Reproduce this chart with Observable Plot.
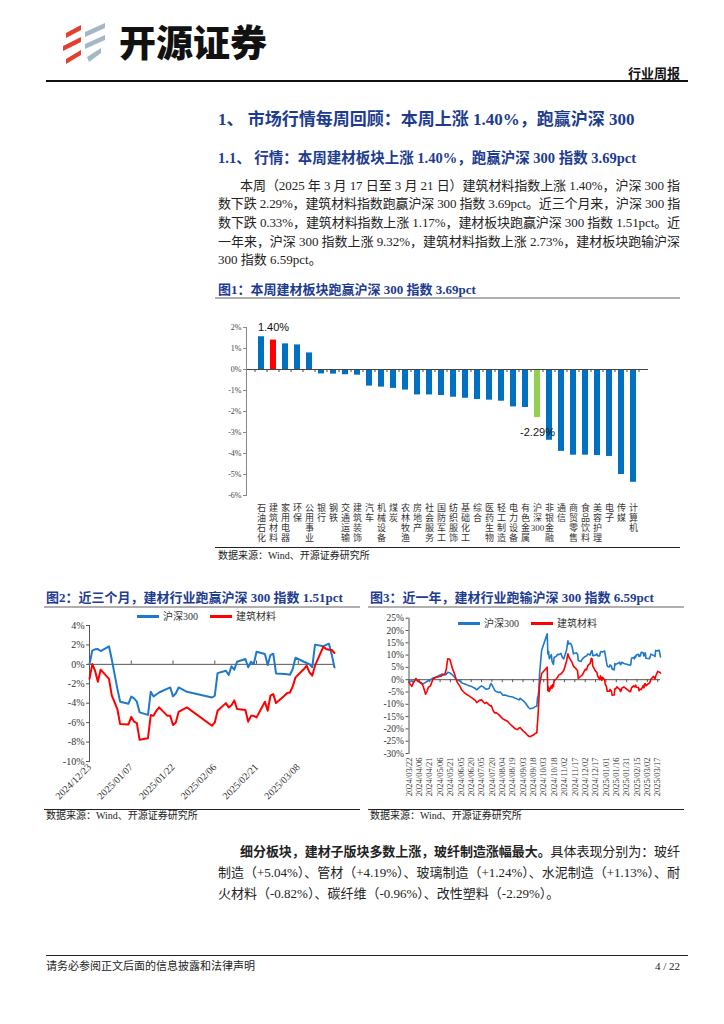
<!DOCTYPE html>
<html><head><meta charset="utf-8">
<script src="https://cdn.jsdelivr.net/npm/d3@7"></script>
<script src="https://cdn.jsdelivr.net/npm/@observablehq/plot@0.6"></script>
<style>
html,body{margin:0;padding:0;background:#fff;}
body{width:724px;height:1024px;position:relative;overflow:hidden;font-family:"Liberation Serif","Noto Sans CJK SC",serif;color:#222;}
.a{position:absolute;white-space:nowrap;}
.navy{color:#1d3c8f;font-weight:bold;}
.rule{position:absolute;}
.jl{position:absolute;white-space:nowrap;font-size:13px;line-height:19px;height:19px;}
.jl2{line-height:21px;height:21px;}
.src{font-size:10px;line-height:14px;}
.leg{position:absolute;font-size:10px;line-height:12px;white-space:nowrap;color:#333;}
.leg i{display:inline-block;width:22px;height:0;border-top:3px solid;vertical-align:middle;margin-right:4px;position:relative;top:-1px;}
.chart{position:absolute;}
</style></head><body>

<svg class="a" style="left:60px;top:21px" width="48" height="44" viewBox="0 0 48 44">
  <g fill="#e2412f">
    <polygon points="6,12 21,4 21,9 6,17"/>
    <polygon points="3,25 21,16 21,21 3,30"/>
    <polygon points="6,38 21,29 21,34 6,43"/>
  </g>
  <g fill="#a3b7c7">
    <polygon points="25,11 45,2 45,7 25,16"/>
    <polygon points="25,23 45,14 45,19 25,28"/>
    <polygon points="27,36 41,27 41,32 29,41"/>
  </g>
</svg>
<div class="a" style="left:119px;top:19px;font-family:'Noto Sans CJK SC';font-weight:900;font-size:37px;line-height:44px;color:#111;">开源证券</div>
<div class="a" style="right:44px;top:65px;font-family:'Noto Sans CJK SC';font-weight:bold;font-size:13px;line-height:16px;color:#111;">行业周报</div>
<div class="rule" style="left:46px;top:80px;width:642px;height:1.5px;background:#111;"></div>

<div class="a navy" style="left:218px;top:109px;font-size:17px;line-height:22px;">1、 市场行情每周回顾：本周上涨 1.40%，跑赢沪深 300</div>
<div class="a navy" style="left:218px;top:148px;font-size:14.5px;line-height:20px;">1.1、 行情：本周建材板块上涨 1.40%，跑赢沪深 300 指数 3.69pct</div>

<div class="jl" data-w="440" style="left:240px;top:175.5px;">本周（2025 年 3 月 17 日至 3 月 21 日）建筑材料指数上涨 1.40%，沪深 300 指</div>
<div class="jl" data-w="462" style="left:218px;top:194.2px;">数下跌 2.29%，建筑材料指数跑赢沪深 300 指数 3.69pct。近三个月来，沪深 300 指</div>
<div class="jl" data-w="462" style="left:218px;top:213px;">数下跌 0.33%，建筑材料指数上涨 1.17%，建材板块跑赢沪深 300 指数 1.51pct。近</div>
<div class="jl" data-w="462" style="left:218px;top:231.7px;">一年来，沪深 300 指数上涨 9.32%，建筑材料指数上涨 2.73%，建材板块跑输沪深</div>
<div class="jl" style="left:218px;top:250.4px;">300 指数 6.59pct。</div>

<div class="a navy" style="left:218px;top:282px;font-size:13px;line-height:16px;">图1：本周建材板块跑赢沪深 300 指数 3.69pct</div>
<div class="rule" style="left:215px;top:297px;width:465px;height:2px;background:#b0b0b0;"></div>
<div class="chart" id="c1" style="left:215px;top:305px;"></div>
<div class="rule" style="left:215px;top:547px;width:465px;height:1px;background:#222;"></div>
<div class="a src" style="left:218px;top:549px;">数据来源：Wind、开源证券研究所</div>

<div class="a navy" style="left:46px;top:590px;font-size:13px;line-height:16px;">图2：近三个月，建材行业跑赢沪深 300 指数 1.51pct</div>
<div class="a navy" style="left:370px;top:590px;font-size:13px;line-height:16px;">图3：近一年，建材行业跑输沪深 300 指数 6.59pct</div>
<div class="rule" style="left:44px;top:606px;width:316px;height:2px;background:#b0b0b0;"></div>
<div class="rule" style="left:368px;top:606px;width:316px;height:2px;background:#b0b0b0;"></div>
<div class="chart" id="c2" style="left:44px;top:610px;"></div>
<div class="chart" id="c3" style="left:368px;top:610px;"></div>
<div class="leg" style="left:137px;top:611px;"><i style="border-color:#1f78c8"></i>沪深300</div>
<div class="leg" style="left:210px;top:611px;"><i style="border-color:#ff0000"></i>建筑材料</div>
<div class="leg" style="left:458px;top:618px;"><i style="border-color:#1f78c8"></i>沪深300</div>
<div class="leg" style="left:531px;top:618px;"><i style="border-color:#ff0000"></i>建筑材料</div>
<div class="rule" style="left:44px;top:809px;width:316px;height:1px;background:#222;"></div>
<div class="rule" style="left:368px;top:809px;width:316px;height:1px;background:#222;"></div>
<div class="a src" style="left:46px;top:809px;">数据来源：Wind、开源证券研究所</div>
<div class="a src" style="left:370px;top:809px;">数据来源：Wind、开源证券研究所</div>

<div class="jl jl2" data-w="440" style="left:240px;top:840.5px;"><b>细分板块，建材子版块多数上涨，玻纤制造涨幅最大。</b>具体表现分别为：玻纤</div>
<div class="jl jl2" data-w="462" style="left:218px;top:861.5px;">制造（+5.04%）、管材（+4.19%）、玻璃制造（+1.24%）、水泥制造（+1.13%）、耐</div>
<div class="jl jl2" style="left:218px;top:882.5px;">火材料（-0.82%）、碳纤维（-0.96%）、改性塑料（-2.29%）。</div>

<div class="rule" style="left:46px;top:955px;width:642px;height:1px;background:#222;"></div>
<div class="a" style="left:46px;top:959px;font-size:11px;line-height:14px;">请务必参阅正文后面的信息披露和法律声明</div>
<div class="a" style="right:44px;top:959px;font-size:11px;line-height:14px;">4 / 22</div>

<script>
// ---------- Figure 1: weekly change by sector ----------
const sectors = ["石油石化","建筑材料","家用电器","环保","公用事业","银行","钢铁","交通运输","建筑装饰","汽车","机械设备","煤炭","农林牧渔","房地产","社会服务","国防军工","纺织服饰","基础化工","综合","医药生物","轻工制造","电力设备","有色金属","沪深300","非银金融","通信","商贸零售","食品饮料","美容护理","电子","传媒","计算机"];
const weekChange = [1.56,1.40,1.22,1.17,0.79,-0.21,-0.22,-0.25,-0.27,-0.79,-0.84,-0.90,-0.98,-1.21,-1.21,-1.24,-1.32,-1.37,-1.43,-1.46,-1.51,-1.78,-1.81,-2.29,-3.37,-3.90,-4.08,-4.08,-4.10,-4.14,-5.00,-5.37];
const barColors = {"建筑材料":"#FF0000","沪深300":"#92D050"};
const barDefault = "#0070C0";
const yTicks1 = [2,1,0,-1,-2,-3,-4,-5,-6];

// ---------- Figure 2: last three months ----------
const d2Dates = ["2024-12-23","2024-12-24","2024-12-25","2024-12-26","2024-12-27","2024-12-30","2024-12-31","2025-01-02","2025-01-03","2025-01-06","2025-01-07","2025-01-08","2025-01-09","2025-01-10","2025-01-13","2025-01-14","2025-01-15","2025-01-16","2025-01-17","2025-01-20","2025-01-21","2025-01-22","2025-01-23","2025-01-24","2025-01-27","2025-02-05","2025-02-06","2025-02-07","2025-02-10","2025-02-11","2025-02-12","2025-02-13","2025-02-14","2025-02-17","2025-02-18","2025-02-19","2025-02-20","2025-02-21","2025-02-24","2025-02-25","2025-02-26","2025-02-27","2025-02-28","2025-03-03","2025-03-04","2025-03-05","2025-03-06","2025-03-07","2025-03-10","2025-03-11","2025-03-12","2025-03-13","2025-03-14","2025-03-17","2025-03-18","2025-03-19","2025-03-20","2025-03-21"];
const d2HS300 = [0,1.41,1.55,1.58,1.37,1.86,0.5,-2.5,-3.84,-4.05,-3.32,-3.5,-3.84,-4.94,-5.2,-2.83,-3.3,-3.1,-2.9,-2.5,-2.38,-3.3,-3.0,-2.38,-2.83,-3.41,-3.23,-0.9,-0.65,-1.1,-0.2,-0.55,0.27,0.55,-0.3,0.27,0.03,1.3,1.07,-0.07,0.96,1.1,-0.93,-1.0,-1.03,-1.07,-0.48,0.69,0.27,0.14,0.03,-0.3,2.03,1.86,2.0,2.13,1.0,-0.33];
const d2JC = [-1.5,0.03,-0.65,-1.79,-0.55,-1.5,-3.2,-4.6,-6.15,-6.18,-5.4,-5.9,-6.05,-7.77,-7.6,-5.22,-5.3,-4.78,-4.43,-5.3,-5.3,-6.25,-5.98,-4.9,-4.43,-6.32,-5.98,-4.78,-3.99,-4.43,-4.2,-3.71,-4.6,-4.7,-5.9,-5.3,-5.3,-5.46,-3.85,-4.78,-3.23,-3.06,-3.99,-3.23,-2.95,-2.9,-2.27,-1.34,-0.48,-0.14,-0.82,-1.17,-0.14,1.82,1.58,1.51,1.48,1.17];
const d2Ticks = ["2024-12-23","2025-01-07","2025-01-22","2025-02-06","2025-02-21","2025-03-08"];
const yTicks2 = [4,2,0,-2,-4,-6,-8,-10];

// ---------- Figure 3: last year ----------
const d3DatesEarly = ["2024-03-22","2024-03-26","2024-03-28","2024-04-01","2024-04-03","2024-04-08","2024-04-10","2024-04-12","2024-04-15","2024-04-17","2024-04-19","2024-04-22","2024-04-24","2024-04-26","2024-04-30","2024-05-07","2024-05-09","2024-05-13","2024-05-15","2024-05-17","2024-05-20","2024-05-22","2024-05-24","2024-05-27","2024-05-29","2024-05-31","2024-06-04","2024-06-06","2024-06-11","2024-06-13","2024-06-17","2024-06-20","2024-06-24","2024-06-26","2024-06-28","2024-07-02","2024-07-05","2024-07-08","2024-07-10","2024-07-12","2024-07-16","2024-07-18","2024-07-19","2024-07-22","2024-07-24","2024-07-26","2024-07-30","2024-08-01","2024-08-05","2024-08-08","2024-08-12","2024-08-15","2024-08-19","2024-08-22","2024-08-26","2024-08-28","2024-08-30","2024-09-03","2024-09-05","2024-09-09","2024-09-11","2024-09-13","2024-09-18","2024-09-20","2024-09-23","2024-09-24","2024-09-25","2024-09-26","2024-09-27","2024-09-30","2024-10-08","2024-10-09","2024-10-10","2024-10-11","2024-10-14","2024-10-15","2024-10-16","2024-10-17","2024-10-18","2024-10-21","2024-10-23","2024-10-25","2024-10-28","2024-10-30","2024-11-01","2024-11-05","2024-11-07","2024-11-08","2024-11-11","2024-11-13","2024-11-15","2024-11-19","2024-11-21","2024-11-22","2024-11-26","2024-11-28","2024-12-02","2024-12-04","2024-12-06","2024-12-09","2024-12-11","2024-12-12","2024-12-13","2024-12-17","2024-12-19","2024-12-20"];
const d3Dates = d3DatesEarly.concat(d2Dates);
const d3HS300 = [-1.0,-0.4,-1.0,0.3,0.0,-1.5,-1.8,-1.6,-1.1,-0.7,
  -0.4,0.0,0.3,0.8,1.0,2.0,2.3,1.9,2.2,3.0,
  2.8,2.4,1.9,1.0,0.3,0.0,-0.6,-1.2,-1.8,-2.0,
  -2.5,-2.7,-3.3,-3.6,-4.1,-3.1,-2.5,-3.0,-3.6,-3.9,
  -3.6,-1.8,-1.6,-3.1,-4.3,-4.8,-5.2,-5.0,-6.3,-6.2,
  -6.6,-6.8,-7.0,-7.4,-7.9,-8.2,-7.6,-8.5,-9.0,-10.5,
  -11.3,-11.8,-11.5,-11.0,-10.8,-7.2,-6.6,-3.8,2.5,12.0,
  18.7,10.5,11.5,8.5,10.2,7.5,6.8,6.2,9.0,9.5,
  10.3,10.2,10.7,9.0,8.5,12.0,15.8,14.5,14.8,13.5,
  10.5,11.0,10.3,7.8,7.4,8.5,9.5,9.6,10.5,10.0,
  11.6,11.8,9.8,10.0,10.5,9.7,
  9.7,11.2,11.4,11.4,11.2,11.7,10.2,6.9,5.5,5.2,
  6.0,5.8,5.5,4.3,4.0,6.6,6.1,6.3,6.5,6.9,
  7.1,6.1,6.4,7.1,6.6,5.9,6.1,8.7,9.0,8.5,
  9.5,9.1,10.0,10.3,9.4,10.0,9.7,11.1,10.9,9.6,
  10.7,10.9,8.7,8.6,8.6,8.5,9.2,10.4,10.0,9.8,
  9.7,9.4,11.9,11.7,11.9,12.0,10.8,9.3];
const d3JC = [-1.1,-2.7,-1.5,0.5,-0.5,-1.1,-1.6,-3.1,-5.9,-4.8,
  -3.1,-2.5,-1.0,0.3,1.0,1.4,1.8,2.3,4.4,8.5,
  8.3,6.4,4.4,2.3,0.3,-1.1,-2.8,-4.1,-5.5,-5.9,
  -6.6,-7.2,-8.0,-8.4,-9.3,-8.4,-8.2,-9.2,-9.6,-9.2,
  -10.2,-10.7,-10.5,-12.7,-13.5,-13.4,-14.2,-14.8,-16.0,-16.4,
  -17.0,-18.0,-19.0,-19.8,-20.3,-19.6,-19.5,-20.8,-21.2,-22.4,
  -22.9,-23.2,-22.5,-22.0,-21.6,-17.5,-13.4,-8.0,-2.0,2.5,
  5.1,-4.5,-3.0,-4.8,-2.5,-3.5,-2.0,-2.8,-0.5,0.3,
  1.0,2.0,2.3,3.0,3.7,7.5,10.5,9.5,8.0,7.0,
  5.5,4.4,3.6,0.5,1.5,2.0,4.2,4.0,5.8,6.5,
  8.7,8.5,5.5,3.5,3.0,1.5,
  0.0,1.6,0.9,-0.3,1.0,0.0,-1.7,-3.1,-4.7,-4.7,
  -3.9,-4.4,-4.6,-6.3,-6.2,-3.7,-3.8,-3.3,-2.9,-3.8,
  -3.8,-4.8,-4.5,-3.4,-2.9,-4.9,-4.5,-3.3,-2.5,-2.9,
  -2.7,-2.2,-3.1,-3.2,-4.5,-3.8,-3.8,-4.0,-2.4,-3.3,
  -1.7,-1.6,-2.5,-1.7,-1.5,-1.4,-0.8,0.2,1.1,1.4,
  0.7,0.3,1.4,3.4,3.1,3.1,3.0,2.7];
const d3Ticks = ["2024-03-22","2024-04-06","2024-04-21","2024-05-06","2024-05-21","2024-06-05","2024-06-20","2024-07-05","2024-07-20","2024-08-04","2024-08-19","2024-09-03","2024-09-18","2024-10-03","2024-10-18","2024-11-02","2024-11-17","2024-12-02","2024-12-17","2025-01-01","2025-01-16","2025-01-31","2025-02-15","2025-03-02","2025-03-17"];
const yTicks3 = [25,20,15,10,5,0,-5,-10,-15,-20,-25,-30];

const blue = "#1f78c8", red = "#ff0000";
const serif = "'Liberation Serif','Noto Sans CJK SC',serif";
const fmtDate = d3.utcFormat("%Y/%m/%d");
const pct = d => d + "%";
const stack = s => s.match(/[0-9]+|./g).join("\n");

// ---- Chart 1
const barRows = sectors.map((s, i) => ({sector: s, value: weekChange[i], color: barColors[s] || barDefault}));
const c1 = Plot.plot({
  width: 465, height: 242, marginLeft: 31, marginRight: 32, marginTop: 22, marginBottom: 52,
  style: {fontFamily: serif, fontSize: "8px", color: "#444", background: "transparent"},
  x: {domain: sectors, paddingInner: 0.5, paddingOuter: 0.25, label: null, axis: null},
  y: {domain: [-6, 2], label: null, axis: null},
  color: {type: "identity"},
  marks: [
    Plot.barY(barRows, {x: "sector", y: "value", fill: "color"}),
    Plot.ruleY([0], {stroke: "#444", strokeWidth: 1}),
    Plot.frame({anchor: "left", stroke: "#888"}),
    Plot.axisY({ticks: yTicks1, tickFormat: pct, tickSize: 3, tickPadding: 2, fontSize: 8, stroke: "#888"}),
    Plot.text(sectors, {x: d => d, text: stack, frameAnchor: "bottom", lineAnchor: "top", dy: 9, fontSize: 9, lineHeight: 1.08, fontFamily: serif, fill: "#333"}),
    Plot.text(barRows.filter(d => d.sector === "建筑材料"), {x: "sector", y: "value", text: d => d.value.toFixed(2) + "%", dy: -13, fontSize: 11, fontFamily: "'Liberation Sans',sans-serif", fill: "#111"}),
    Plot.text(barRows.filter(d => d.sector === "沪深300"), {x: "sector", y: "value", text: d => d.value.toFixed(2) + "%", dy: 15, fontSize: 11, fontFamily: "'Liberation Sans',sans-serif", fill: "#111"})
  ]
});
document.getElementById("c1").appendChild(c1);
{
  const xs = c1.scale("x"), ys = c1.scale("y");
  const y0 = ys.apply(0);
  const gap = (xs.step - xs.bandwidth) / 2;
  const g = d3.select(c1).append("g").attr("stroke", "#444");
  sectors.forEach(s => {
    const xb = xs.apply(s) - gap;
    g.append("line").attr("x1", xb).attr("x2", xb).attr("y1", y0).attr("y2", y0 + 3);
  });
  const xe = xs.apply(sectors[sectors.length - 1]) + xs.bandwidth + gap;
  g.append("line").attr("x1", xe).attr("x2", xe).attr("y1", y0).attr("y2", y0 + 3);
}

// ---- Chart 2
const rows2 = d2Dates.map((d, i) => ({date: new Date(d), hs: d2HS300[i], jc: d2JC[i]}));
const ticks2 = d2Ticks.map(d => new Date(d));
const c2 = Plot.plot({
  width: 316, height: 199, marginLeft: 45, marginRight: 26, marginTop: 15, marginBottom: 48,
  style: {fontFamily: serif, fontSize: "10px", color: "#333", background: "transparent"},
  x: {type: "utc", domain: [new Date(d2Dates[0]), new Date(d2Dates[d2Dates.length - 1])], label: null, axis: null},
  y: {domain: [-10, 4], label: null, axis: null},
  marks: [
    Plot.ruleY([0], {stroke: "#555"}),
    Plot.ruleX(ticks2, {x: d => d, y1: 0, y2: 0.35, stroke: "#555"}),
    Plot.frame({anchor: "left", stroke: "#555"}),
    Plot.axisY({ticks: yTicks2, tickFormat: pct, tickSize: 3, tickPadding: 2, fontSize: 10, stroke: "#555"}),
    Plot.axisX({ticks: ticks2, tickFormat: fmtDate, tickRotate: -45, tickSize: 0, tickPadding: 4, fontSize: 10}),
    Plot.lineY(rows2, {x: "date", y: "hs", stroke: blue, strokeWidth: 2}),
    Plot.lineY(rows2, {x: "date", y: "jc", stroke: red, strokeWidth: 2})
  ]
});
document.getElementById("c2").appendChild(c2);

// ---- Chart 3
const rows3 = d3Dates.map((d, i) => ({date: new Date(d), hs: d3HS300[i], jc: d3JC[i]}));
const ticks3 = d3Ticks.map(d => new Date(d));
const c3 = Plot.plot({
  width: 316, height: 199, marginLeft: 40.5, marginRight: 24, marginTop: 7.7, marginBottom: 56,
  style: {fontFamily: serif, fontSize: "9px", color: "#333", background: "transparent"},
  x: {type: "utc", domain: [new Date("2024-03-22"), new Date("2025-03-21")], label: null, axis: null},
  y: {domain: [-30, 25], label: null, axis: null},
  marks: [
    Plot.ruleY([0], {stroke: "#555"}),
    Plot.ruleX(ticks3, {x: d => d, y1: 0, y2: -1.2, stroke: "#555"}),
    Plot.frame({anchor: "left", stroke: "#555"}),
    Plot.axisY({ticks: yTicks3, tickFormat: pct, tickSize: 3, tickPadding: 2, fontSize: 9.5, stroke: "#555"}),
    Plot.axisX({ticks: ticks3, tickFormat: fmtDate, tickRotate: -90, tickSize: 0, tickPadding: 4, fontSize: 8.5}),
    Plot.lineY(rows3, {x: "date", y: "hs", stroke: blue, strokeWidth: 1.6}),
    Plot.lineY(rows3, {x: "date", y: "jc", stroke: red, strokeWidth: 1.6})
  ]
});
document.getElementById("c3").appendChild(c3);

// ---- justify paragraph lines to their measured widths
function fitLines() {
  document.querySelectorAll(".jl[data-w]").forEach(el => {
    el.style.letterSpacing = "0px";
    const w = el.getBoundingClientRect().width;
    const n = [...el.textContent].length;
    el.style.letterSpacing = ((+el.dataset.w - w) / n) + "px";
  });
}
fitLines();
if (document.fonts && document.fonts.ready) document.fonts.ready.then(fitLines);
</script>
</body></html>
